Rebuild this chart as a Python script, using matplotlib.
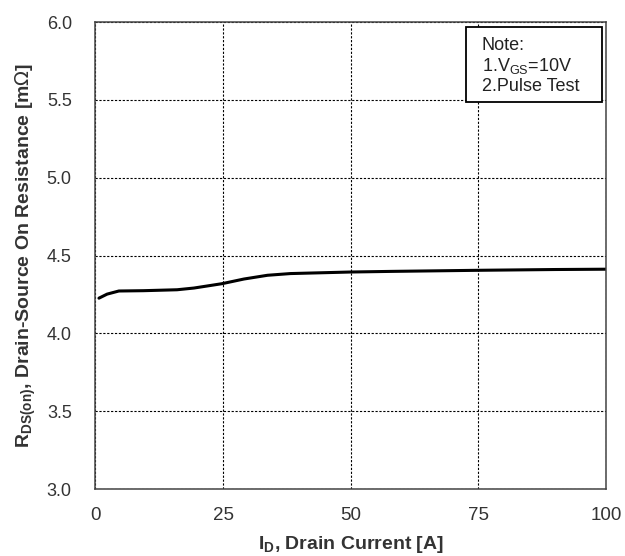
import matplotlib
matplotlib.use("Agg")
import matplotlib.pyplot as plt
from matplotlib.patches import Rectangle

plt.rcParams['font.family'] = ['Liberation Sans', 'DejaVu Sans']

current = [0.7, 2.3, 4.6, 9.4, 16, 19.3, 24.8, 29.1, 33.7, 38.2, 50, 58, 75, 90, 100]
rdson = [4.226, 4.252, 4.272, 4.274, 4.280, 4.291, 4.319, 4.349, 4.373, 4.384, 4.394, 4.398, 4.405, 4.41, 4.412]
xticks = [0, 25, 50, 75, 100]
yticks = [3.0, 3.5, 4.0, 4.5, 5.0, 5.5, 6.0]

fig = plt.figure(figsize=(6.25, 5.56), dpi=100)
ax = fig.add_axes([0.1526, 0.1205, 0.817, 0.8399])

ax.plot(current, rdson, color='black', lw=2.2, solid_capstyle='round', solid_joinstyle='round')
ax.set_xlim(0, 100)
ax.set_ylim(3.0, 6.0)
ax.set_xticks(xticks)
ax.set_yticks(yticks)
ax.set_xticklabels([str(v) for v in xticks])
ax.set_yticklabels([f"{v:.1f}" for v in yticks])
ax.grid(True, color='black', linestyle=(0, (2, 1.5)), linewidth=0.8)
ax.tick_params(axis='x', labelsize=13.5, labelcolor='#333333', length=0, pad=13)
ax.tick_params(axis='y', labelsize=13, labelcolor='#333333', length=0, pad=17)
for s in ax.spines.values():
    s.set_color('#444444')
    s.set_linewidth(1.1)

ax.set_xlabel(r'I$_\mathregular{D}$, Drain Current [A]', fontsize=14, fontweight='bold', color='#333333', labelpad=7)
ax.set_ylabel(r'R$_\mathregular{DS(on)}$, Drain-Source On Resistance [m$\Omega$]', fontsize=14, fontweight='bold', color='#333333', labelpad=6)

fig.patches.append(Rectangle((0.7456, 0.8165), 0.2176, 0.1349, transform=fig.transFigure,
                             facecolor='white', edgecolor='black', linewidth=1.3, zorder=5))
fig.text(0.771, 0.934, 'Note:\n1.V$_\\mathregular{GS}$=10V\n2.Pulse Test',
         ha='left', va='top', fontsize=13, color='#222222', linespacing=1.15, zorder=6)

fig.savefig('out.png', dpi=100)
